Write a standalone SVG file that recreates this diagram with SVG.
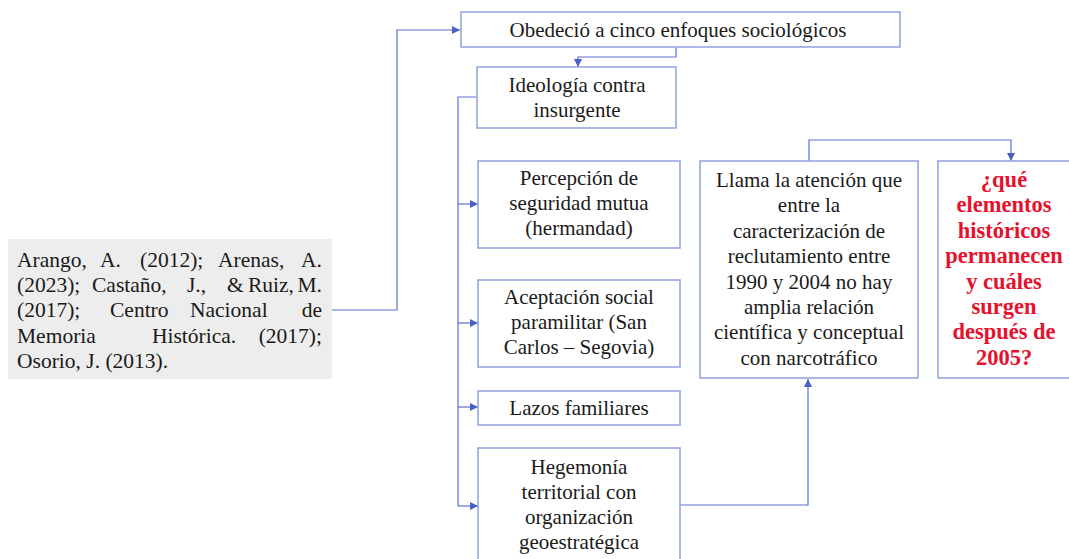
<svg xmlns="http://www.w3.org/2000/svg" width="1069" height="559" viewBox="0 0 1069 559">
<style>
.box{fill:#fff;stroke:#97a5e4;stroke-width:1.6}
.t,.r,.ref{font-family:'Liberation Serif','Times New Roman',Times,'DejaVu Serif',serif;font-size:21px}
.t{fill:#1a1a1a;text-anchor:middle}
.r{font-weight:bold;font-size:22.5px;fill:#e8112d;text-anchor:middle}
.ref{fill:#1a1a1a;font-size:21.5px}
.c{fill:none;stroke:#5b6fd0;stroke-width:1.2}
</style>
<defs>
<marker id="ah" viewBox="0 0 10 10" refX="10" refY="5" markerWidth="8" markerHeight="8" markerUnits="userSpaceOnUse" orient="auto">
<path d="M0,0 L10,5 L0,10 z" fill="#4a5fc8"/>
</marker>
</defs>
<rect width="1069" height="559" fill="#fff"/>
<g id="connectors">
<path class="c" d="M332,310 H397 V30 H460" marker-end="url(#ah)"/>
<path class="c" d="M676,47 V57 H578 V67" marker-end="url(#ah)"/>
<path class="c" d="M477,97 H458 V506"/>
<path class="c" d="M458,204 H478" marker-end="url(#ah)"/>
<path class="c" d="M458,323 H478" marker-end="url(#ah)"/>
<path class="c" d="M458,407 H478" marker-end="url(#ah)"/>
<path class="c" d="M458,506 H478" marker-end="url(#ah)"/>
<path class="c" d="M680,505 H808 V379" marker-end="url(#ah)"/>
<path class="c" d="M809,161 V140 H1011 V161" marker-end="url(#ah)"/>
</g>
<g id="ref">
<rect x="8" y="239" width="324" height="140" fill="#ededed"/>
<text class="ref" y="267"><tspan x="17">Arango,</tspan><tspan x="100">A.</tspan><tspan x="140">(2012);</tspan><tspan x="218">Arenas,</tspan><tspan x="322" text-anchor="end">A.</tspan></text>
<text class="ref" y="292"><tspan x="17">(2023);</tspan><tspan x="92">Castaño,</tspan><tspan x="187">J.,</tspan><tspan x="227">&amp;</tspan><tspan x="248">Ruiz,</tspan><tspan x="322" text-anchor="end">M.</tspan></text>
<text class="ref" y="317"><tspan x="17">(2017);</tspan><tspan x="110">Centro</tspan><tspan x="190">Nacional</tspan><tspan x="322" text-anchor="end">de</tspan></text>
<text class="ref" y="343"><tspan x="17">Memoria</tspan><tspan x="152">Histórica.</tspan><tspan x="322" text-anchor="end">(2017);</tspan></text>
<text class="ref" x="17" y="368">Osorio, J. (2013).</text>
</g>
<g id="top">
<rect class="box" x="461" y="12" width="439" height="35"/>
<text class="t" x="678" y="37">Obedeció a cinco enfoques sociológicos</text>
</g>
<g id="ideologia">
<rect class="box" x="477" y="67" width="199" height="61"/>
<text class="t" x="577" y="92">Ideología contra</text>
<text class="t" x="577" y="117">insurgente</text>
</g>
<g id="percepcion">
<rect class="box" x="478" y="161" width="202" height="87"/>
<text class="t" x="579" y="185">Percepción de</text>
<text class="t" x="579" y="210">seguridad mutua</text>
<text class="t" x="579" y="235">(hermandad)</text>
</g>
<g id="aceptacion">
<rect class="box" x="478" y="280" width="202" height="87"/>
<text class="t" x="579" y="304">Aceptación social</text>
<text class="t" x="579" y="329">paramilitar (San</text>
<text class="t" x="579" y="354">Carlos – Segovia)</text>
</g>
<g id="lazos">
<rect class="box" x="478" y="391" width="202" height="34"/>
<text class="t" x="579" y="415">Lazos familiares</text>
</g>
<g id="hegemonia">
<rect class="box" x="478" y="448" width="202" height="120"/>
<text class="t" x="579" y="474">Hegemonía</text>
<text class="t" x="579" y="499">territorial con</text>
<text class="t" x="579" y="524">organización</text>
<text class="t" x="579" y="549">geoestratégica</text>
</g>
<g id="llama">
<rect class="box" x="700" y="161" width="218" height="217"/>
<text class="t" x="809" y="187">Llama la atención que</text>
<text class="t" x="809" y="212">entre la</text>
<text class="t" x="809" y="238">caracterización de</text>
<text class="t" x="809" y="263">reclutamiento entre</text>
<text class="t" x="809" y="289">1990 y 2004 no hay</text>
<text class="t" x="809" y="314">amplia relación</text>
<text class="t" x="809" y="339">científica y conceptual</text>
<text class="t" x="809" y="365">con narcotráfico</text>
</g>
<g id="pregunta">
<rect class="box" x="938" y="161" width="140" height="217"/>
<text class="r" x="1004" y="187">¿qué</text>
<text class="r" x="1004" y="212">elementos</text>
<text class="r" x="1004" y="238">históricos</text>
<text class="r" x="1004" y="263">permanecen</text>
<text class="r" x="1004" y="289">y cuáles</text>
<text class="r" x="1004" y="314">surgen</text>
<text class="r" x="1004" y="339">después de</text>
<text class="r" x="1004" y="365">2005?</text>
</g>
</svg>
